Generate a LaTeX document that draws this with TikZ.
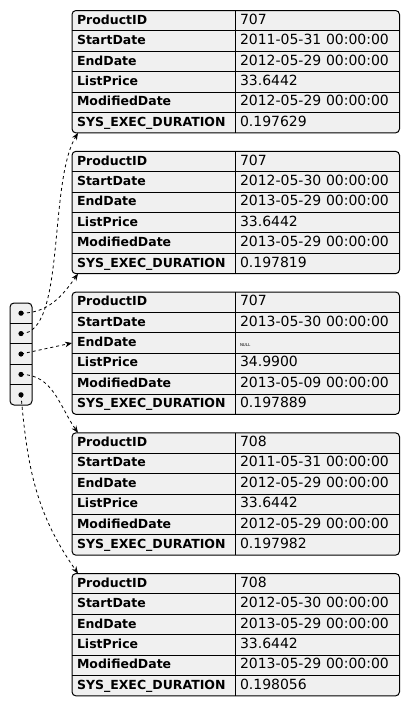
\documentclass[tikz,border=0pt]{standalone}
\usepackage{fontspec}
\setmainfont{DejaVu Sans}
\usetikzlibrary{positioning,arrows.meta,backgrounds}
\definecolor{cellgray}{gray}{0.94}

\begin{document}
\begin{tikzpicture}[x=1pt, y=1pt, node distance=0pt, outer sep=0pt,
    key/.style={rectangle, minimum height=20.4pt, text width=153pt, inner xsep=5pt, inner ysep=0pt, text height=10pt, text depth=3pt, align=left, font=\bfseries\fontsize{12.5}{14}\selectfont},
    val/.style={rectangle, minimum height=20.4pt, text width=154.5pt, inner xsep=5pt, inner ysep=0pt, text height=10pt, text depth=3pt, align=left, font=\fontsize{14}{16}\selectfont},
    slot/.style={rectangle, minimum width=22pt, minimum height=20.4pt},
    ptr/.style={dashed, line width=0.8pt, -{Stealth[length=7pt,width=5.5pt]}}]
    \useasboundingbox (0,0) rectangle (410,-707);

    % version rows
    \foreach \t/\ytop/\pid/\sdate/\edate/\price/\mdate/\dur in {
        1/10.5/707/2011-05-31 00:00:00/2012-05-29 00:00:00/33.6442/2012-05-29 00:00:00/0.197629,
        2/151.3/707/2012-05-30 00:00:00/2013-05-29 00:00:00/33.6442/2013-05-29 00:00:00/0.197819,
        3/292/707/2013-05-30 00:00:00/{\fontsize{4}{4}\selectfont NULL}/34.9900/2013-05-09 00:00:00/0.197889,
        4/432.8/708/2011-05-31 00:00:00/2012-05-29 00:00:00/33.6442/2012-05-29 00:00:00/0.197982,
        5/573.5/708/2012-05-30 00:00:00/2013-05-29 00:00:00/33.6442/2013-05-29 00:00:00/0.198056}{
        \node [key, anchor=north west] (key\t-1) at (72,-\ytop) {ProductID};
        \node [key, below=of key\t-1] (key\t-2) {StartDate};
        \node [key, below=of key\t-2] (key\t-3) {EndDate};
        \node [key, below=of key\t-3] (key\t-4) {ListPrice};
        \node [key, below=of key\t-4] (key\t-5) {ModifiedDate};
        \node [key, below=of key\t-5] (key\t-6) {SYS\_EXEC\_DURATION};
        \node [val, right=of key\t-1] (val\t-1) {\pid};
        \node [val, right=of key\t-2] (val\t-2) {\sdate};
        \node [val, right=of key\t-3] (val\t-3) {\edate};
        \node [val, right=of key\t-4] (val\t-4) {\price};
        \node [val, right=of key\t-5] (val\t-5) {\mdate};
        \node [val, right=of key\t-6] (val\t-6) {\dur};
        \begin{scope}[on background layer]
            \draw [fill=cellgray, rounded corners=4pt, line width=1pt] (key\t-1.north west) rectangle (val\t-6.south east);
        \end{scope}
        \foreach \k in {1,...,5}
            \draw [line width=0.9pt] (key\t-\k.south west) -- (val\t-\k.south east);
        \draw [line width=0.9pt] (val\t-1.north west) -- (val\t-6.south west);
    }

    % pointer array
    \node [slot, anchor=north] (slot1) at (21,-303) {};
    \node [slot, below=of slot1] (slot2) {};
    \node [slot, below=of slot2] (slot3) {};
    \node [slot, below=of slot3] (slot4) {};
    \node [slot, below=of slot4] (slot5) {};
    \begin{scope}[on background layer]
        \draw [fill=cellgray, rounded corners=4pt, line width=1pt] (slot1.north west) rectangle (slot5.south east);
    \end{scope}
    \foreach \k in {1,...,4}
        \draw [line width=0.9pt] (slot\k.south west) -- (slot\k.south east);
    \foreach \k in {1,...,5}
        \fill (slot\k) circle (2.6pt);

    \draw [ptr] (slot1.center) to[out=0, in=-125] ([xshift=6pt]key2-6.south west);
    \draw [ptr] (slot2.center) .. controls +(45,0) and +(-30,-50) .. ([xshift=6pt]key1-6.south west);
    \draw [ptr] (slot3.center) -- (key3-3.west);
    \draw [ptr] (slot4.center) to[out=0, in=125] ([xshift=6pt]key4-1.north west);
    \draw [ptr] (slot5.center) to[out=-85, in=125] ([xshift=6pt]key5-1.north west);
\end{tikzpicture}
\end{document}
